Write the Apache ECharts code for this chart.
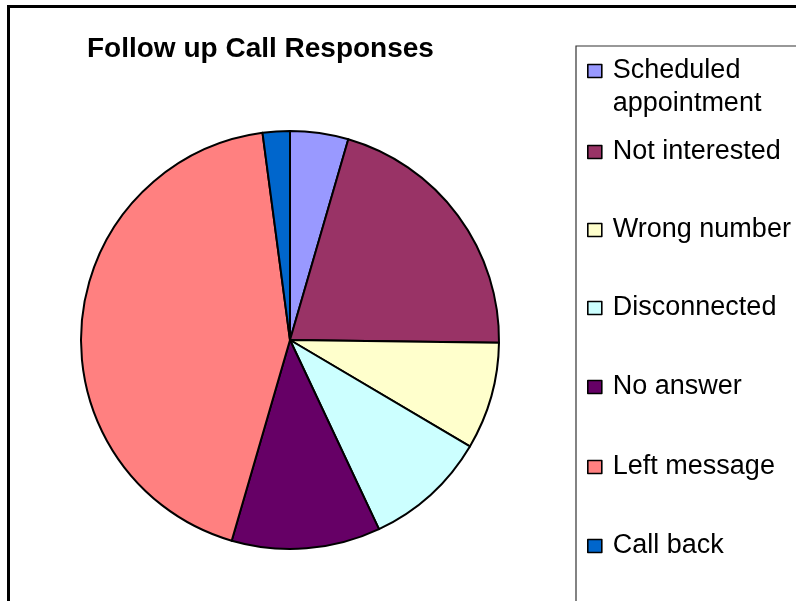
<!DOCTYPE html>
<html><head><meta charset="utf-8">
<script src="https://cdn.jsdelivr.net/npm/echarts@6/dist/echarts.min.js"></script>
<style>html,body{margin:0;padding:0;background:#fff}#c{width:796px;height:601px}</style>
</head><body><div id="c"></div>
<script>
// Data
const categories = ['Scheduled appointment','Not interested','Wrong number','Disconnected','No answer','Left message','Call back'];
const values = [4.5, 20.7, 8.3, 9.5, 11.5, 43.4, 2.1];
const titleText = 'Follow up Call Responses';

// Styles / layout (not data)
const palette = ['#9999FF','#993366','#FFFFCC','#CCFFFF','#660066','#FF8080','#0066CC'];
const legendIconCenters = [71,152,230,308,387,467,546];
const FONT = "'Liberation Sans', Arial, sans-serif";

const chart = echarts.init(document.getElementById('c'), null, {renderer:'canvas'});

const legends = categories.map((name, i) => {
  const multi = name === 'Scheduled appointment';
  return {
    data: [name],
    orient: 'vertical',
    left: 587,
    top: multi ? legendIconCenters[i] - 49.5 : legendIconCenters[i] - 15,
    padding: 0,
    itemWidth: 14,
    itemHeight: 13,
    icon: 'rect',
    selectedMode: false,
    itemStyle: {borderColor:'#000', borderWidth:1.6},
    formatter: n => n === 'Scheduled appointment' ? '\nScheduled\nappointment' : n,
    textStyle: multi
      ? {fontFamily: FONT, fontSize: 27, color:'#000', lineHeight: 33, padding:[0,0,0,6]}
      : {fontFamily: FONT, fontSize: 27, color:'#000', lineHeight: 30, padding:[0,0,0,6]}
  };
});

chart.setOption({
  animation: false,
  backgroundColor: '#fff',
  color: palette,
  title: {
    text: titleText,
    left: 87, top: 34, padding: 0,
    textStyle: {fontFamily: FONT, fontSize: 28, fontWeight: 'bold', color: '#000', lineHeight: 30}
  },
  legend: legends,
  graphic: [
    {type:'rect', shape:{x:8.5, y:6.5, width:900, height:700}, style:{fill:'none', stroke:'#000', lineWidth:3}, silent:true},
    {type:'rect', shape:{x:576, y:46, width:400, height:700}, style:{fill:'none', stroke:'#333', lineWidth:1.2}, silent:true}
  ],
  series: [{
    type: 'pie',
    center: [290, 340],
    radius: 209,
    startAngle: 90,
    clockwise: true,
    label: {show:false},
    labelLine: {show:false},
    emphasis: {disabled: true},
    itemStyle: {borderColor:'#000', borderWidth:2},
    data: categories.map((n, i) => ({name: n, value: values[i]}))
  }]
});
</script></body></html>
